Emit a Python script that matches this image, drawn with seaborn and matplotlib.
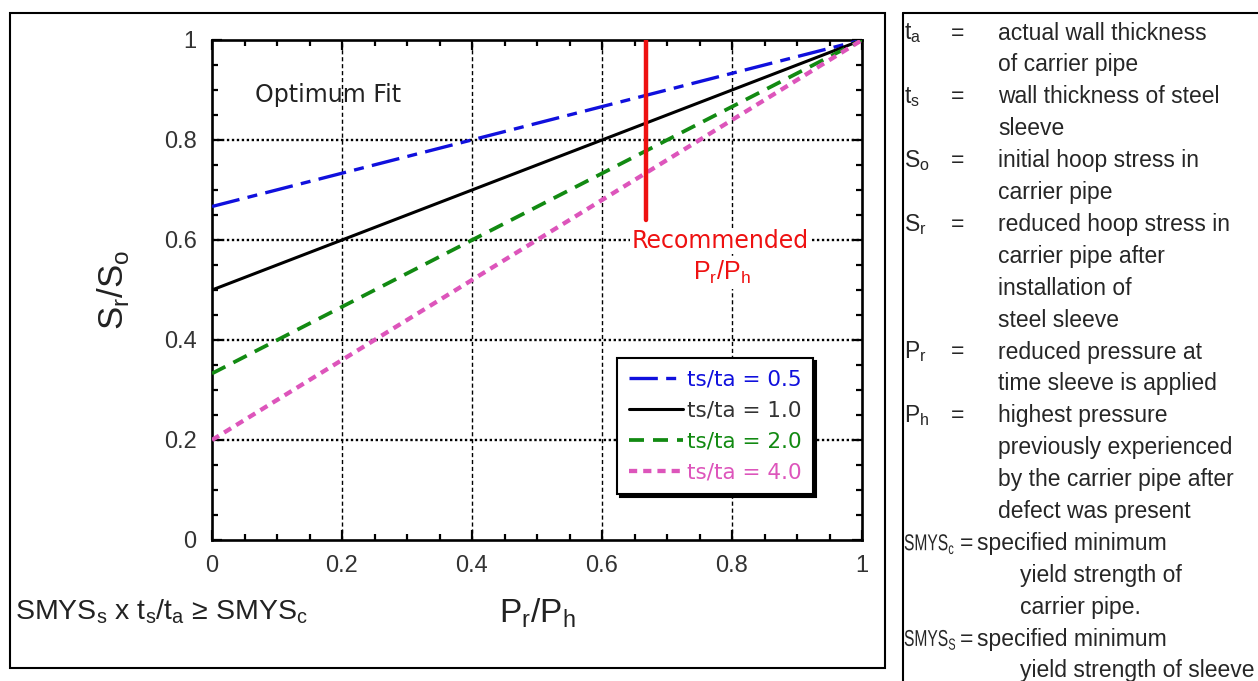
import numpy as np
import pandas as pd
import seaborn as sns
import matplotlib.pyplot as plt
from matplotlib import patheffects
from matplotlib.patches import Rectangle
from matplotlib.lines import Line2D
from matplotlib.transforms import Affine2D
from matplotlib.ticker import MultipleLocator

# values
ratio_labels = ["ts/ta = 0.5", "ts/ta = 1.0", "ts/ta = 2.0", "ts/ta = 4.0"]
pr_ph = [0.0, 1.0]
sr_so_05 = [0.667, 1.0]
sr_so_10 = [0.5, 1.0]
sr_so_20 = [0.333, 1.0]
sr_so_40 = [0.2, 1.0]
recommended_x = 0.667
recommended_y = [0.64, 1.0]
tick_vals = [0, 0.2, 0.4, 0.6, 0.8, 1]
tick_labels = ["0", "0.2", "0.4", "0.6", "0.8", "1"]


class Stretch(patheffects.AbstractPathEffect):
    # stretch text vertically around a point (gives a condensed look)
    def __init__(self, x0, y0, sx, sy):
        super().__init__()
        self.x0, self.y0, self.sx, self.sy = x0, y0, sx, sy

    def draw_path(self, renderer, gc, tpath, affine, rgbFace=None):
        a = affine + (Affine2D().translate(-self.x0, -self.y0)
                      .scale(self.sx, self.sy).translate(self.x0, self.y0))
        renderer.draw_path(gc, tpath, a, rgbFace)


sns.set_style("white")
plt.rcParams['font.family'] = ['Liberation Sans', 'DejaVu Sans']

fig = plt.figure(figsize=(12.58, 6.81), dpi=100)
ax = fig.add_axes([212/1258, 141/681, 650/1258, 500/681])

series = [sr_so_05, sr_so_10, sr_so_20, sr_so_40]
colors = ["#1010dd", "#000000", "#128a12", "#dd55bb"]
dash_styles = [(8.5, 2.5, 3.0, 2.5), None, (4.0, 2.4), (1.9, 1.4)]
widths = [2.4, 2.2, 2.7, 3.1]

for lab, ys, c, d, w in zip(ratio_labels, series, colors, dash_styles, widths):
    df = pd.DataFrame({"x": pr_ph, "y": ys})
    sns.lineplot(data=df, x="x", y="y", color=c, lw=w, ax=ax, label=lab, zorder=4)
    if d is not None:
        ax.lines[-1].set_dashes(d)

ax.plot([recommended_x, recommended_x], recommended_y, color="#ee1111", lw=3.2, zorder=5)

ax.set_xlim(0, 1)
ax.set_ylim(0, 1)
ax.set_xticks(tick_vals)
ax.set_xticklabels(tick_labels)
ax.set_yticks(tick_vals)
ax.set_yticklabels(tick_labels)
ax.xaxis.set_minor_locator(MultipleLocator(0.05))
ax.yaxis.set_minor_locator(MultipleLocator(0.05))
ax.tick_params(which="both", direction="in", top=True, right=True, bottom=True, left=True,
               width=1.6, colors="black", labelcolor="#333333", labelsize=17)
ax.tick_params(which="major", length=7, pad=11)
ax.tick_params(which="minor", length=4)
for s in ax.spines.values():
    s.set_linewidth(1.9)
    s.set_color("black")

# grid
for v in [0.2, 0.4, 0.6, 0.8]:
    ax.axvline(v, color="black", lw=1.0, ls=(0, (3, 2)), zorder=1)
    ax.axhline(v, color="black", lw=1.7, ls=(0, (1, 1.1)), zorder=1)

ax.set_xlabel(r"P$_\mathregular{r}$/P$_\mathregular{h}$", fontsize=24, color="#222222", labelpad=14)
ax.set_ylabel(r"S$_\mathregular{r}$/S$_\mathregular{o}$", fontsize=25, color="#222222", labelpad=24)

ax.text(0.066, 0.89, "Optimum Fit", fontsize=17, color="#222222", va="center",
        family=["DejaVu Sans"])
ax.text(0.782, 0.598, "Recommended", fontsize=17, color="#ee1111", ha="center", va="center",
        family=["DejaVu Sans"], bbox=dict(facecolor="white", edgecolor="none", pad=1), zorder=3)
ax.text(0.785, 0.535, r"P$_\mathregular{r}$/P$_\mathregular{h}$", fontsize=18, color="#ee1111",
        ha="center", va="center", bbox=dict(facecolor="white", edgecolor="none", pad=2), zorder=3)

leg = ax.legend(loc="upper left", bbox_to_anchor=(0.623, 0.364), borderaxespad=0,
                frameon=True, fancybox=False, shadow={"color": "black", "alpha": 1},
                edgecolor="black", labelcolor="linecolor", handlelength=2.5,
                handletextpad=0.2, borderpad=0.55, labelspacing=0.5,
                prop={"family": "DejaVu Sans", "size": 15.5})
leg.get_frame().set_linewidth(1.5)
leg.set_zorder(6)
for txt, c in zip(leg.get_texts(), ["#1010dd", "#333333", "#128a12", "#dd55bb"]):
    txt.set_color(c)

# bottom-left note
fig.text(15/1258, 1 - 612/681,
         r"SMYS$_\mathregular{s}$ x t$_\mathregular{s}$/t$_\mathregular{a}$ ≥ SMYS$_\mathregular{c}$",
         fontsize=20.5, color="#222222", va="center", ha="left")

# frames
fig.patches.append(Rectangle((10/1258, 1 - 668/681), 875/1258, 655/681, transform=fig.transFigure,
                             fill=False, edgecolor="black", lw=1.5))
fig.lines.append(Line2D([903/1258, 903/1258], [1 - 13/681, 0], transform=fig.transFigure,
                        color="black", lw=1.5))
fig.lines.append(Line2D([903/1258, 1], [1 - 13/681, 1 - 13/681], transform=fig.transFigure,
                        color="black", lw=1.5))

# definitions panel
defs = [
    (r"t$_\mathregular{a}$", False, ["actual wall thickness", "of carrier pipe"]),
    (r"t$_\mathregular{s}$", False, ["wall thickness of steel", "sleeve"]),
    (r"S$_\mathregular{o}$", False, ["initial hoop stress in", "carrier pipe"]),
    (r"S$_\mathregular{r}$", False, ["reduced hoop stress in", "carrier pipe after", "installation of", "steel sleeve"]),
    (r"P$_\mathregular{r}$", False, ["reduced pressure at", "time sleeve is applied"]),
    (r"P$_\mathregular{h}$", False, ["highest pressure", "previously experienced", "by the carrier pipe after", "defect was present"]),
    (r"SMYS$_\mathregular{c}$", True, ["specified minimum", "yield strength of", "carrier pipe."]),
    (r"SMYS$_\mathregular{S}$", True, ["specified minimum", "yield strength of sleeve"]),
]
fs = 16.5
sq = 0.68
row_h = 31.9
row = 0
for sym, smys, lines in defs:
    y0 = 33 + row * row_h
    if smys:
        fig.text(904/1258, 1 - y0/681, sym, fontsize=fs * sq, va="center", ha="left",
                 path_effects=[Stretch(904, 681 - y0, 1.0, 1 / sq)])
        fig.text(960/1258, 1 - y0/681, "=", fontsize=fs, va="center", ha="left")
        x_first, x_rest = 977, 1020
    else:
        fig.text(904/1258, 1 - y0/681, sym, fontsize=fs, va="center", ha="left")
        fig.text(951/1258, 1 - y0/681, "=", fontsize=fs, va="center", ha="left")
        x_first, x_rest = 998, 998
    for i, t in enumerate(lines):
        yy = 33 + (row + i) * row_h
        xx = x_first if i == 0 else x_rest
        fig.text(xx/1258, 1 - yy/681, t, fontsize=fs, va="center", ha="left")
    row += len(lines)

fig.savefig("out.png", dpi=100)
